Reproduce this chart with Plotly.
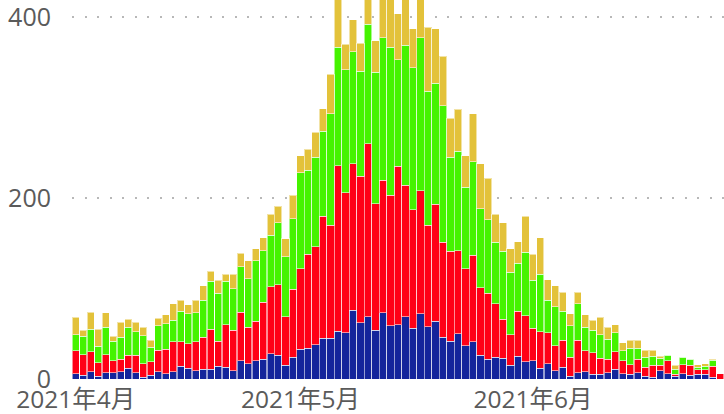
import pandas as pd
import plotly.graph_objects as go

dates = pd.date_range("2021-04-01", periods=87, freq="D")

blue = [6, 4, 8, 3, 7, 7, 8, 12, 7, 2, 4, 8, 6, 8, 14, 12, 9, 11, 11, 14,
        13, 9, 20, 17, 20, 22, 28, 26, 15, 24, 33, 34, 38, 45, 45, 53, 51, 76, 62, 69,
        54, 73, 59, 60, 69, 56, 72, 58, 64, 46, 42, 50, 37, 41, 26, 22, 24, 23, 15, 25,
        19, 20, 12, 17, 9, 13, 3, 7, 8, 5, 5, 7, 11, 6, 5, 7, 3, 2, 9, 6,
        3, 6, 4, 5, 5, 2, 0]
red = [25, 23, 22, 15, 20, 13, 14, 14, 19, 15, 15, 24, 27, 33, 27, 27, 32, 35, 44, 28,
       47, 45, 54, 40, 44, 63, 74, 78, 54, 75, 89, 104, 108, 135, 125, 183, 155, 162, 162, 191,
       140, 147, 144, 175, 145, 131, 136, 112, 129, 105, 99, 92, 85, 96, 75, 73, 59, 43, 34, 50,
       51, 36, 40, 34, 28, 30, 21, 36, 23, 24, 18, 15, 19, 14, 11, 15, 10, 13, 6, 14,
       2, 10, 11, 5, 5, 12, 6]
green = [18, 20, 25, 18, 30, 22, 24, 31, 26, 31, 16, 27, 28, 24, 34, 33, 32, 41, 53, 53,
         48, 46, 50, 54, 67, 57, 57, 69, 66, 78, 106, 93, 99, 94, 123, 131, 136, 124, 116, 132,
         145, 157, 164, 118, 155, 157, 169, 148, 134, 151, 104, 110, 90, 103, 87, 81, 68, 75, 69, 53,
         70, 53, 64, 36, 43, 32, 35, 40, 26, 25, 26, 22, 21, 11, 18, 12, 11, 10, 8, 6,
         6, 8, 7, 3, 4, 7, 0]
yellow = [19, 7, 19, 19, 16, 5, 17, 9, 11, 9, 8, 8, 10, 18, 12, 10, 14, 16, 11, 14,
          8, 16, 15, 20, 13, 14, 23, 18, 20, 26, 19, 23, 28, 25, 44, 70, 28, 35, 31, 55,
          35, 60, 55, 51, 60, 43, 55, 71, 60, 55, 43, 46, 35, 53, 50, 46, 31, 32, 26, 24,
          40, 29, 40, 23, 23, 21, 13, 13, 14, 11, 19, 13, 9, 9, 9, 9, 8, 7, 2, 0,
          4, 0, 0, 3, 3, 1, 0]

series = [
    ("blue", blue, "#14249B"),
    ("red", red, "#FF0016"),
    ("green", green, "#45F300"),
    ("yellow", yellow, "#E3C23A"),
]

fig = go.Figure()
for name, vals, col in series:
    fig.add_trace(go.Bar(
        x=dates, y=vals, name=name,
        marker=dict(color=col, line=dict(color="rgba(255,255,255,0.55)", width=1)),
        hoverinfo="skip",
    ))

font_fam = "Open Sans, Noto Sans CJK JP, sans-serif"
fig.update_layout(
    barmode="stack",
    bargap=0.04,
    width=724, height=414,
    margin=dict(l=72, r=0, t=0, b=35, autoexpand=False),
    paper_bgcolor="white", plot_bgcolor="white",
    showlegend=False,
    font=dict(family=font_fam, size=24, color="#5a5a5a"),
)
fig.update_xaxes(
    range=[pd.Timestamp("2021-03-31 12:00"), pd.Timestamp("2021-06-26 12:00")],
    tickvals=[pd.Timestamp("2021-04-01"), pd.Timestamp("2021-05-01"), pd.Timestamp("2021-06-01")],
    ticktext=["2021年4月", "2021年5月", "2021年6月"],
    showgrid=False, zeroline=False, showline=False, ticks="",
    ticklabelstandoff=3,
    ticklabeloverflow="allow",
    tickfont=dict(size=24.5),
)
fig.update_yaxes(
    range=[0, 419], tickvals=[0, 200, 400],
    showgrid=True, gridcolor="#b8b8b8", gridwidth=2, griddash="2px,10.5px",
    zeroline=False, showline=False, ticks="",
    ticklabelstandoff=20,
    ticklabeloverflow="allow",
    tickfont=dict(size=25),
)
fig.write_html("out.html", config={"displayModeBar": False},
               post_script="document.body.style.margin='0';")
